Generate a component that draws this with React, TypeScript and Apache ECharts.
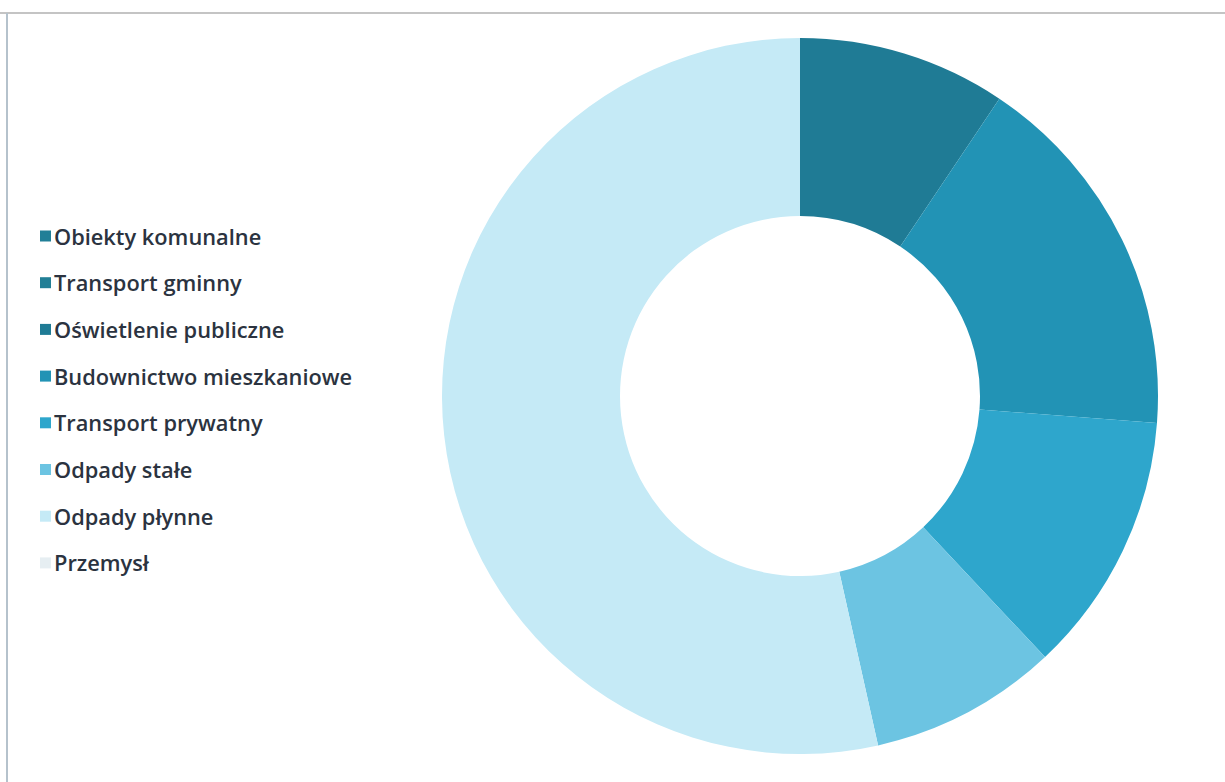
import React, { useEffect, useRef } from "react";
import * as echarts from "echarts";

const categories = [
  "Obiekty komunalne",
  "Transport gminny",
  "Oświetlenie publiczne",
  "Budownictwo mieszkaniowe",
  "Transport prywatny",
  "Odpady stałe",
  "Odpady płynne",
  "Przemysł",
];
const values = [0, 0, 9.4, 16.8, 11.8, 8.5, 53.5, 0];
const colors = [
  "#217f97",
  "#227f96",
  "#1f7b95",
  "#2293b5",
  "#2ea6cc",
  "#6cc4e2",
  "#c5eaf6",
  "#e6eef2",
];

export default function App() {
  const ref = useRef<HTMLDivElement>(null);
  useEffect(() => {
    document.body.style.margin = "0";
    const chart = echarts.init(ref.current!, null, { renderer: "svg" });
    chart.setOption({
      animation: false,
      backgroundColor: "#ffffff",
      color: colors,
      legend: {
        orient: "vertical",
        left: 35,
        top: 220,
        padding: 5,
        icon: "rect",
        itemWidth: 11,
        itemHeight: 11,
        itemGap: 24.7,
        textStyle: {
          fontFamily: "'Open Sans', sans-serif",
          fontSize: 21.8,
          fontWeight: 600,
          color: "#2b3340",
          lineHeight: 20,
          padding: [0, 0, 0, -2],
        },
        data: categories,
      },
      graphic: [
        {
          type: "line",
          shape: { x1: 0, y1: 13, x2: 1225, y2: 13 },
          style: { stroke: "#c4c4c4", lineWidth: 2 },
        },
        {
          type: "line",
          shape: { x1: 7, y1: 13, x2: 7, y2: 782 },
          style: { stroke: "#b5c2cc", lineWidth: 2 },
        },
      ],
      series: [
        {
          type: "pie",
          center: [800, 396],
          radius: [180, 358],
          startAngle: 90,
          clockwise: true,
          label: { show: false },
          labelLine: { show: false },
          emphasis: { disabled: true },
          data: categories.map((name, i) => ({ name, value: values[i] })),
        },
      ],
    });
    return () => chart.dispose();
  }, []);
  return <div ref={ref} style={{ width: 1225, height: 782 }} />;
}
